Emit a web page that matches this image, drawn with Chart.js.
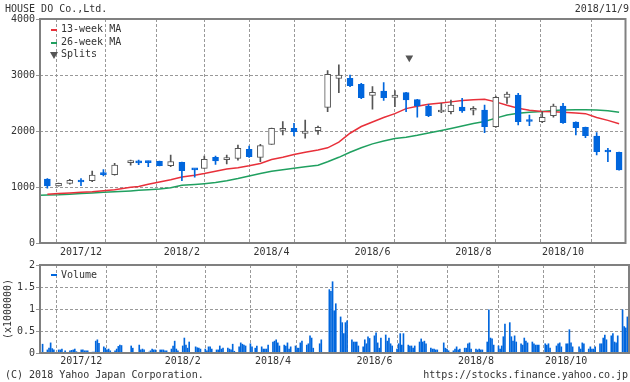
<!DOCTYPE html>
<html>
<head>
<meta charset="utf-8">
<script src="https://cdn.jsdelivr.net/npm/chart.js@4.4.1/dist/chart.umd.min.js"></script>
<style>
  body { margin: 0; width: 630px; height: 382px; background: #fff; position: relative; overflow: hidden;
         font-family: "DejaVu Sans Mono", monospace; font-size: 10px; color: #333; }
  canvas { position: absolute; left: 0; }
  #main { top: 0; }
  #vol { top: 256px; }
  .t { position: absolute; white-space: pre; line-height: 12px; }
  .dash { position: absolute; width: 6px; height: 2px; }
  .tri { position: absolute; width: 0; height: 0; border-left: 4px solid transparent;
         border-right: 4px solid transparent; border-top: 7px solid #555; }
</style>
</head>
<body>
<canvas id="main" width="630" height="258"></canvas>
<canvas id="vol" width="630" height="114"></canvas>

<div class="t" style="left:5px;top:3px">HOUSE DO Co.,Ltd.</div>
<div class="t" style="right:1px;top:3px">2018/11/9</div>
<div class="dash" style="left:51px;top:29px;background:#e8303a"></div>
<div class="t" style="left:61px;top:23px">13-week MA</div>
<div class="dash" style="left:51px;top:42px;background:#20a060"></div>
<div class="t" style="left:61px;top:36px">26-week MA</div>
<div class="tri" style="left:50px;top:52px"></div>
<div class="t" style="left:61px;top:48px">Splits</div>
<div class="dash" style="left:51px;top:274px;background:#0066dd"></div>
<div class="t" style="left:61px;top:269px">Volume</div>
<div class="t" style="left:5px;top:369px">(C) 2018 Yahoo Japan Corporation.</div>
<div class="t" style="right:2px;top:369px">https://stocks.finance.yahoo.co.jp</div>

<script>
// weekly candles (first trading day of each week)
const weekDates = [
  '2017-11-13','2017-11-20','2017-11-27','2017-12-04','2017-12-11','2017-12-18','2017-12-25',
  '2018-01-04','2018-01-09','2018-01-15','2018-01-22','2018-01-29','2018-02-05','2018-02-13',
  '2018-02-19','2018-02-26','2018-03-05','2018-03-12','2018-03-19','2018-03-26','2018-04-02',
  '2018-04-09','2018-04-16','2018-04-23','2018-05-01','2018-05-07','2018-05-14','2018-05-21',
  '2018-05-28','2018-06-04','2018-06-11','2018-06-18','2018-06-25','2018-07-02','2018-07-09',
  '2018-07-17','2018-07-23','2018-07-30','2018-08-06','2018-08-13','2018-08-20','2018-08-27',
  '2018-09-03','2018-09-10','2018-09-18','2018-09-25','2018-10-01','2018-10-09','2018-10-15',
  '2018-10-22','2018-10-29','2018-11-05'
];
const openP = [1140,1020,1066,1125,1113,1256,1220, 1435,1450,1460,1460,1381,1441,1320,
  1333,1530,1490,1512,1673,1530,1762, 2012,2048,1958,2006,2423,2940,2940,
  2833,2637,2714,2601,2684,2560,2446, 2340,2345,2429,2370,2375,2077,2601,
  2643,2196,2166,2273,2446,2161,2066, 1911,1649,1619];
const highP = [1150,1070,1137,1150,1286,1310,1423, 1480,1480,1462,1462,1571,1445,1325,
  1553,1553,1570,1750,1732,1762,2050, 2166,2137,2196,2090,3080,3180,3000,
  2851,2792,2863,2720,2690,2565,2477, 2494,2554,2583,2434,2464,2625,2696,
  2673,2286,2345,2482,2494,2165,2070, 1970,1690,1625];
const lowP = [980,1015,1050,1025,1095,1200,1210, 1390,1400,1365,1378,1363,1113,1175,
  1330,1405,1410,1480,1530,1452,1760, 1929,1911,1870,1940,2345,2685,2790,
  2577,2390,2545,2434,2345,2245,2256, 2327,2304,2334,2286,1970,2066,2494,
  2107,2095,2148,2245,2137,1929,1881, 1571,1452,1300];
const closeP = [1020,1065,1120,1090,1214,1220,1393, 1442,1430,1435,1380,1452,1291,1305,
  1494,1464,1500,1690,1541,1738,2048, 2048,1988,2000,2066,3012,3000,2810,
  2595,2690,2595,2643,2554,2446,2273, 2345,2464,2357,2375,2077,2601,2661,
  2166,2170,2245,2446,2149,2059,1916, 1631,1625,1304];

// moving averages, one point per week (the first week lies just left of the plot)
const maDates = ['2017-11-06'].concat(weekDates);
const ma13 = [null, 870,885,895,905,915,934,950, 995,1010,1050,1090,1130,1180,1210,
  1240,1280,1320,1345,1380,1420,1490, 1530,1580,1620,1660,1700,1800,1960,
  2080,2160,2240,2310,2400,2440,2477, 2500,2520,2545,2560,2566,2520,2460,
  2405,2370,2350,2345,2335,2320,2310, 2240,2190,2130];
const ma26 = [850, 855,860,870,885,895,905,915, 930,940,950,965,985,1030,1045,
  1060,1080,1110,1150,1195,1240,1280, 1310,1335,1360,1390,1450,1530,1620,
  1700,1770,1820,1865,1890,1925,1965, 2010,2045,2090,2135,2170,2230,2285,
  2315,2335,2350,2365,2375,2380,2380, 2375,2360,2335];

const splitDates = ['2018-06-27'];

// daily volume, thousands of shares
const volDates = [
  '2017-11-10','2017-11-13','2017-11-14','2017-11-15','2017-11-16','2017-11-17','2017-11-20','2017-11-21',
  '2017-11-22','2017-11-24','2017-11-27','2017-11-28','2017-11-29','2017-11-30','2017-12-01','2017-12-04',
  '2017-12-05','2017-12-06','2017-12-07','2017-12-08','2017-12-11','2017-12-12','2017-12-13','2017-12-14',
  '2017-12-15','2017-12-18','2017-12-19','2017-12-20','2017-12-21','2017-12-22','2017-12-25','2017-12-26',
  '2017-12-27','2017-12-28','2017-12-29','2018-01-04','2018-01-05','2018-01-09','2018-01-10','2018-01-11',
  '2018-01-12','2018-01-15','2018-01-16','2018-01-17','2018-01-18','2018-01-19','2018-01-22','2018-01-23',
  '2018-01-24','2018-01-25','2018-01-26','2018-01-29','2018-01-30','2018-01-31','2018-02-01','2018-02-02',
  '2018-02-05','2018-02-06','2018-02-07','2018-02-08','2018-02-09','2018-02-13','2018-02-14','2018-02-15',
  '2018-02-16','2018-02-19','2018-02-20','2018-02-21','2018-02-22','2018-02-23','2018-02-26','2018-02-27',
  '2018-02-28','2018-03-01','2018-03-02','2018-03-05','2018-03-06','2018-03-07','2018-03-08','2018-03-09',
  '2018-03-12','2018-03-13','2018-03-14','2018-03-15','2018-03-16','2018-03-19','2018-03-20','2018-03-22',
  '2018-03-23','2018-03-26','2018-03-27','2018-03-28','2018-03-29','2018-03-30','2018-04-02','2018-04-03',
  '2018-04-04','2018-04-05','2018-04-06','2018-04-09','2018-04-10','2018-04-11','2018-04-12','2018-04-13',
  '2018-04-16','2018-04-17','2018-04-18','2018-04-19','2018-04-20','2018-04-23','2018-04-24','2018-04-25',
  '2018-04-26','2018-04-27','2018-05-01','2018-05-02','2018-05-07','2018-05-08','2018-05-09','2018-05-10',
  '2018-05-11','2018-05-14','2018-05-15','2018-05-16','2018-05-17','2018-05-18','2018-05-21','2018-05-22',
  '2018-05-23','2018-05-24','2018-05-25','2018-05-28','2018-05-29','2018-05-30','2018-05-31','2018-06-01',
  '2018-06-04','2018-06-05','2018-06-06','2018-06-07','2018-06-08','2018-06-11','2018-06-12','2018-06-13',
  '2018-06-14','2018-06-15','2018-06-18','2018-06-19','2018-06-20','2018-06-21','2018-06-22','2018-06-25',
  '2018-06-26','2018-06-27','2018-06-28','2018-06-29','2018-07-02','2018-07-03','2018-07-04','2018-07-05',
  '2018-07-06','2018-07-09','2018-07-10','2018-07-11','2018-07-12','2018-07-13','2018-07-17','2018-07-18',
  '2018-07-19','2018-07-20','2018-07-23','2018-07-24','2018-07-25','2018-07-26','2018-07-27','2018-07-30',
  '2018-07-31','2018-08-01','2018-08-02','2018-08-03','2018-08-06','2018-08-07','2018-08-08','2018-08-09',
  '2018-08-10','2018-08-13','2018-08-14','2018-08-15','2018-08-16','2018-08-17','2018-08-20','2018-08-21',
  '2018-08-22','2018-08-23','2018-08-24','2018-08-27','2018-08-28','2018-08-29','2018-08-30','2018-08-31',
  '2018-09-03','2018-09-04','2018-09-05','2018-09-06','2018-09-07','2018-09-10','2018-09-11','2018-09-12',
  '2018-09-13','2018-09-14','2018-09-18','2018-09-19','2018-09-20','2018-09-21','2018-09-25','2018-09-26',
  '2018-09-27','2018-09-28','2018-10-01','2018-10-02','2018-10-03','2018-10-04','2018-10-05','2018-10-09',
  '2018-10-10','2018-10-11','2018-10-12','2018-10-15','2018-10-16','2018-10-17','2018-10-18','2018-10-19',
  '2018-10-22','2018-10-23','2018-10-24','2018-10-25','2018-10-26','2018-10-29','2018-10-30','2018-10-31',
  '2018-11-01','2018-11-02','2018-11-05','2018-11-06','2018-11-07','2018-11-08'
];
const volThousands = [
  200, 70,110,230,100,70, 70,70,90,50, 50,60,70,90,30, 70,70,50,50,50,
  20,20,270,300,220, 140,110,70,90,50, 50,90,150,180,170, 160,110, 180,70,90,70,
  20,50,90,70,70, 70,70,70,50,50, 90,160,270,90,50, 160,340,180,110,250,
  140,120,110,90, 90,50,140,140,90, 70,70,160,90,110, 110,90,70,200,40,
  140,230,200,180,160, 210,140,110,160, 140,90,90,90,180, 250,270,300,230,160,
  180,160,230,90,140, 160,110,110,230,270, 180,210,390,340,110, 210,300,
  1440,1400,1620,960,1120, 820,690,440,690,730, 300,250,250,250,160, 140,300,210,370,330,
  390,460,230,110,340, 410,270,340,210,160, 90,210,440,180,440, 180,160,160,110,160,
  250,320,250,270,210, 110,90,90,70,70, 230,110,90,50, 50,90,140,70,90,
  110,110,210,230,90, 90,70,90,70,70, 250,980,340,320,180, 160,90,160,370,660,
  690,370,270,390,250, 210,180,340,270,230, 250,210,180,180,180, 210,180,210,110,
  160,210,230,140, 210,210,530,230,140, 140,90,230,210, 90,140,90,90,140,
  210,210,340,410,300, 390,440,250,230,390, 980,600,570,820
];

const monthTickDates = ['2017-12-04','2018-01-04','2018-02-05','2018-03-05','2018-04-02','2018-05-01',
  '2018-06-04','2018-07-02','2018-08-06','2018-09-03','2018-10-01','2018-11-05'];
const monthTickLabels = ['2017/12','','2018/2','','2018/4','','2018/6','','2018/8','','2018/10',''];
const priceTicks = [0, 1000, 2000, 3000, 4000];
const volumeTicks = [0, 0.5, 1, 1.5, 2];

const blue = '#0066dd';
const dark = '#555555';
const splitLevel = 3310;

Chart.defaults.font.family = '"DejaVu Sans Mono", monospace';
Chart.defaults.font.size = 10;
Chart.defaults.color = '#333';

const origin = Date.UTC(2017, 10, 9);
function dayNum(s) {
  const p = s.split('-');
  return (Date.UTC(+p[0], +p[1] - 1, +p[2]) - origin) / 86400000;
}
const isUp = i => closeP[i] >= openP[i];

const frame = {
  id: 'frame',
  afterDraw(chart) {
    const a = chart.chartArea, ctx = chart.ctx;
    ctx.save();
    ctx.strokeStyle = '#808080';
    ctx.lineWidth = 2;
    ctx.strokeRect(a.left, a.top, a.right - a.left, a.bottom - a.top);
    ctx.restore();
  }
};

function xAxis(h, pad) {
  return {
    type: 'linear', min: -0.6, max: 365, offset: false,
    afterBuildTicks: s => { s.ticks = monthTickDates.map(d => ({ value: dayNum(d) })); },
    afterFit: s => { s.height = h; },
    ticks: { autoSkip: false, maxRotation: 0, padding: pad, callback: (v, i) => monthTickLabels[i] },
    grid: { color: '#999', drawTicks: false },
    border: { display: false, dash: [3, 2] }
  };
}

function yAxis(min, max, ticks) {
  return {
    min: min, max: max,
    afterBuildTicks: s => { s.ticks = ticks.map(v => ({ value: v })); },
    afterFit: s => { s.width = 40; },
    ticks: { padding: 1, callback: v => String(v) },
    grid: { color: '#999', tickLength: 4, tickColor: '#999' },
    border: { display: false, dash: [3, 2] }
  };
}

new Chart(document.getElementById('main'), {
  type: 'bar',
  data: {
    datasets: [
      {
        type: 'scatter',
        data: splitDates.map(d => ({ x: dayNum(d), y: splitLevel })),
        pointStyle: 'triangle', rotation: 180, radius: 4.5,
        backgroundColor: dark, borderColor: dark, borderWidth: 0, order: -1
      },
      {
        data: weekDates.map((d, i) => ({ x: dayNum(d), y: [openP[i], closeP[i]] })),
        backgroundColor: c => isUp(c.dataIndex) ? '#fff' : blue,
        borderColor: c => isUp(c.dataIndex) ? dark : blue,
        borderWidth: 1, borderSkipped: false, barThickness: 6, minBarLength: 2,
        grouped: false, order: 0
      },
      {
        data: weekDates.map((d, i) => ({ x: dayNum(d), y: [lowP[i], highP[i]] })),
        backgroundColor: c => isUp(c.dataIndex) ? dark : blue,
        barThickness: 1, grouped: false, order: 1
      },
      {
        type: 'line',
        data: maDates.map((d, i) => ({ x: dayNum(d), y: ma13[i] })),
        borderColor: '#e8303a', borderWidth: 1.5, pointRadius: 0, order: 2
      },
      {
        type: 'line',
        data: maDates.map((d, i) => ({ x: dayNum(d), y: ma26[i] })),
        borderColor: '#20a060', borderWidth: 1.5, pointRadius: 0, order: 3
      }
    ]
  },
  options: {
    responsive: false, animation: false,
    layout: { padding: { top: 19, right: 1, left: 0, bottom: 0 } },
    plugins: { legend: { display: false }, tooltip: { enabled: false } },
    scales: { x: xAxis(15, 3), y: yAxis(0, 4000, priceTicks) }
  },
  plugins: [frame]
});

const volY = yAxis(0, 2, volumeTicks);
volY.title = { display: true, text: '(x1000000)', padding: { top: 2, bottom: 0 } };

new Chart(document.getElementById('vol'), {
  type: 'bar',
  data: {
    datasets: [{
      data: volDates.map((d, i) => ({ x: dayNum(d), y: volThousands[i] / 1000 })),
      backgroundColor: blue, barThickness: 1, grouped: false
    }]
  },
  options: {
    responsive: false, animation: false,
    layout: { padding: { top: 9, right: 1, left: 0, bottom: 0 } },
    plugins: { legend: { display: false }, tooltip: { enabled: false } },
    scales: { x: xAxis(17, 2), y: volY }
  },
  plugins: [frame]
});
</script>
</body>
</html>
